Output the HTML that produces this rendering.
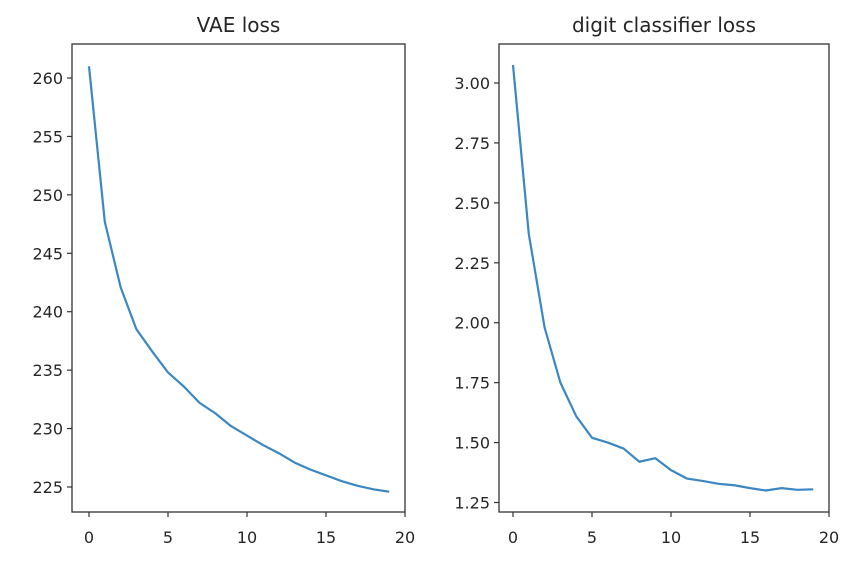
<!DOCTYPE html>
<html><head><meta charset="utf-8"><style>
html,body{margin:0;padding:0;background:#fff;}
svg text{font-family:"DejaVu Sans","Liberation Sans",sans-serif;fill:#262626;}
</style></head><body>
<svg id="chart" width="868" height="574" xmlns="http://www.w3.org/2000/svg"></svg>
<script>
const epochs=[0,1,2,3,4,5,6,7,8,9,10,11,12,13,14,15,16,17,18,19];
const vaeLoss=[261.0,247.7,242.1,238.5,236.6,234.8,233.6,232.2,231.3,230.2,229.4,228.6,227.9,227.1,226.5,226.0,225.5,225.1,224.8,224.6];
const clsLoss=[3.075,2.37,1.98,1.75,1.61,1.52,1.50,1.475,1.42,1.435,1.385,1.35,1.34,1.328,1.322,1.31,1.30,1.31,1.303,1.305];
const xTicks=[0,5,10,15,20];
const vaeTicks=[225,230,235,240,245,250,255,260];
const clsTicks=[1.25,1.50,1.75,2.00,2.25,2.50,2.75,3.00];
const clsTickLabels=["1.25","1.50","1.75","2.00","2.25","2.50","2.75","3.00"];
const NS="http://www.w3.org/2000/svg";
const svg=document.getElementById('chart');
function mk(tag,attrs,parent){const e=document.createElementNS(NS,tag);for(const k in attrs)e.setAttribute(k,attrs[k]);(parent||svg).appendChild(e);return e;}
function panel(cfg){
  const g=mk('g',{});
  
  
  const X=v=>cfg.x0px+(v-0)*(cfg.x20px-cfg.x0px)/20;
  const Y=v=>cfg.yApx+(v-cfg.yA)*(cfg.yBpx-cfg.yApx)/(cfg.yB-cfg.yA);
  const t=mk('text',{x:(cfg.left+cfg.right)/2,y:32,'text-anchor':'middle','font-size':20},g);
  t.textContent=cfg.title;
  
  
  const box=mk('rect',{x:cfg.left,y:44,width:cfg.right-cfg.left,height:468,fill:'none',stroke:'#333','stroke-width':1.3},g);
  
  
  xTicks.forEach(v=>{
    mk('line',{x1:X(v),x2:X(v),y1:512,y2:517,stroke:'#333','stroke-width':1.2},g);
    const l=mk('text',{x:X(v),y:543,'text-anchor':'middle','font-size':16},g);
    l.textContent=v;
    
    
  });
  cfg.yTicks.forEach((v,i)=>{
    mk('line',{x1:cfg.left-5,x2:cfg.left,y1:Y(v),y2:Y(v),stroke:'#333','stroke-width':1.2},g);
    const l=mk('text',{x:cfg.left-9,y:Y(v)+6,'text-anchor':'end','font-size':16},g);
    l.textContent=cfg.yLabels[i];
    
    
  });
  const p=mk('polyline',{points:epochs.map((e,i)=>X(e)+','+Y(cfg.data[i])).join(' '),fill:'none',stroke:'#3b87c2','stroke-width':2.2,'stroke-linejoin':'round'},g);
  
  
}
panel({name:'vae-loss-panel',title:'VAE loss',left:72,right:405,x0px:89,x20px:405,yA:225,yB:260,yApx:487,yBpx:78,yTicks:vaeTicks,yLabels:vaeTicks.map(String),data:vaeLoss});
panel({name:'classifier-loss-panel',title:'digit classifier loss',left:499,right:829,x0px:513,x20px:829,yA:1.25,yB:3.0,yApx:502.5,yBpx:83,yTicks:clsTicks,yLabels:clsTickLabels,data:clsLoss});
</script>
</body></html>
